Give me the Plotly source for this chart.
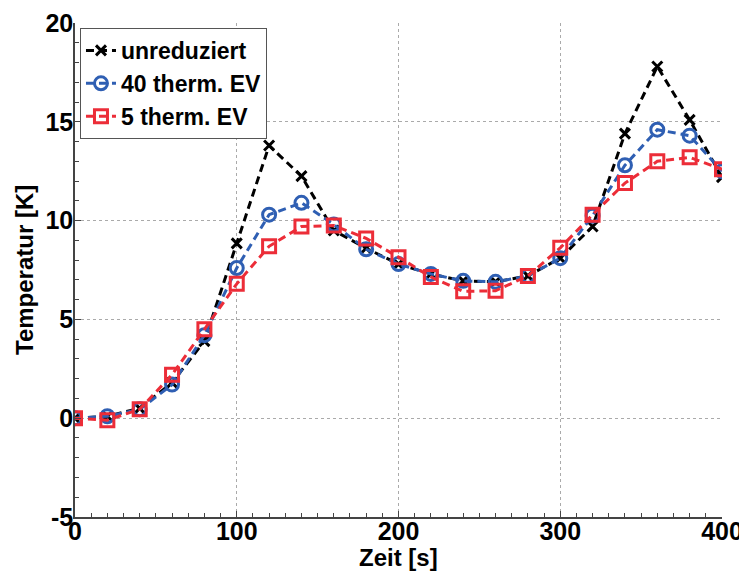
import plotly.graph_objects as go

zeit = [0, 20, 40, 60, 80, 100, 120, 140, 160, 180, 200, 220, 240, 260, 280, 300, 320, 340, 360, 380, 400]
unreduziert = [0.0, 0.1, 0.5, 1.8, 3.9, 8.85, 13.8, 12.25, 9.5, 8.6, 7.8, 7.3, 6.95, 6.9, 7.2, 8.1, 9.7, 14.4, 17.8, 15.1, 12.2]
ev40 = [0.0, 0.1, 0.45, 1.7, 4.2, 7.6, 10.3, 10.9, 9.8, 8.55, 7.8, 7.3, 6.95, 6.9, 7.2, 8.1, 10.25, 12.8, 14.6, 14.3, 12.5]
ev5 = [0.0, -0.1, 0.45, 2.2, 4.5, 6.8, 8.7, 9.7, 9.75, 9.1, 8.15, 7.15, 6.42, 6.45, 7.2, 8.62, 10.3, 11.9, 13.0, 13.2, 12.6]

x_ticks = [0, 100, 200, 300, 400]
y_ticks = [-5, 0, 5, 10, 15, 20]
y_ticktext = ["-5", "0", "5", "10", "15", "20"]

dash = "8px,5px"
fig = go.Figure()
fig.add_trace(go.Scatter(x=zeit, y=unreduziert, name="unreduziert", mode="lines+markers",
                         line=dict(color="black", width=3, dash=dash),
                         marker=dict(symbol="x-thin-open", size=10, line=dict(color="black", width=3))))
fig.add_trace(go.Scatter(x=zeit, y=ev40, name="40 therm. EV", mode="lines+markers",
                         line=dict(color="#2f5fb3", width=3, dash=dash),
                         marker=dict(symbol="circle-open", size=13, color="#2f5fb3", line=dict(width=3))))
fig.add_trace(go.Scatter(x=zeit, y=ev5, name="5 therm. EV", mode="lines+markers",
                         line=dict(color="#ec2d38", width=3, dash=dash),
                         marker=dict(symbol="square-open", size=13, color="#ec2d38", line=dict(width=3))))

font_family = "Liberation Sans, Arial, sans-serif"
# page body has an 8px margin, so the figure is sized/offset to compensate
fig.update_layout(
    width=739, height=564,
    margin=dict(l=67, r=25, t=15, b=55),
    paper_bgcolor="white", plot_bgcolor="white",
    font=dict(family=font_family, size=24, color="black"),
    showlegend=True,
    legend=dict(x=0.0077, y=0.99, xanchor="left", yanchor="top",
                bgcolor="white", bordercolor="#555555", borderwidth=1,
                font=dict(size=23, family=font_family, weight="bold"),
                tracegroupgap=0, itemwidth=30),
    xaxis=dict(range=[0, 400], tickvals=x_ticks, ticks="inside", ticklen=6, tickcolor="#444",
               showline=True, linecolor="#444", linewidth=1.5, automargin=False,
               showgrid=True, gridcolor="#aaaaaa", griddash="dot", gridwidth=1,
               zeroline=False, ticklabelstandoff=-9,
               minor=dict(dtick=10, ticks="inside", ticklen=4, tickcolor="#444", showgrid=False),
               tickfont=dict(size=25, weight="bold")),
    yaxis=dict(range=[-5, 20], tickvals=y_ticks, ticktext=y_ticktext, ticks="inside", ticklen=6,
               tickcolor="#444",
               showline=True, linecolor="#444", linewidth=1.5, automargin=False,
               showgrid=True, gridcolor="#aaaaaa", griddash="dot", gridwidth=1,
               zeroline=False, ticklabelstandoff=-5,
               minor=dict(dtick=1, ticks="inside", ticklen=4, tickcolor="#444", showgrid=False),
               tickfont=dict(size=25, weight="bold")),
    annotations=[
        dict(text="Zeit [s]", xref="paper", yref="paper", x=0.5, y=0, xanchor="center",
             yanchor="middle", yshift=-40, showarrow=False,
             font=dict(size=24, weight="bold")),
        dict(text="Temperatur [K]", xref="paper", yref="paper", x=0, y=0.5, xanchor="center",
             yanchor="middle", xshift=-51, textangle=-90, showarrow=False,
             font=dict(size=24, weight="bold")),
    ],
)
fig.write_html("out.html")
